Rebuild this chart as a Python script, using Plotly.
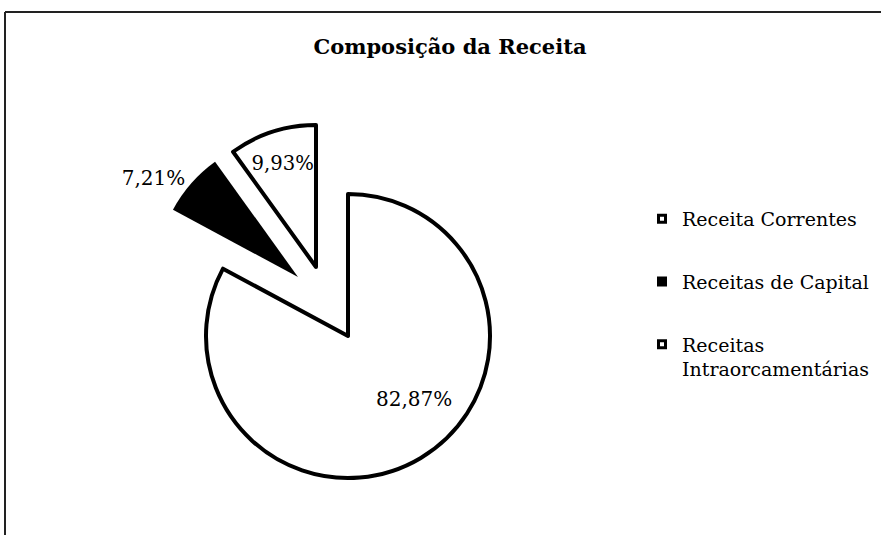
import plotly.graph_objects as go

# ---- data ----
categories = ["Receita Correntes", "Receitas de Capital", "Receitas Intraorcamentárias"]
legend_names = ["Receita Correntes", "Receitas de Capital", "Receitas<br>Intraorcamentárias"]
values = [82.87, 7.21, 9.93]
labels_txt = [f"{v:.2f}".replace(".", ",") + "%" for v in values]
fill_colors = ["#ffffff", "#000000", "#ffffff"]

# ---- layout constants ----
W, H = 881, 535
R = 142                      # pie radius in px
# exploded slice centres (px) for each category
CENTERS = [(348, 336), (298, 277), (316, 267)]
TEXTPOS = ["none", "outside", "inside"]   # big-slice label placed as annotation
BIG_LABEL_POS = (414, 399)
FONT = "DejaVu Serif"


def domain(c, r):
    cx, cy = c
    return dict(x=[(cx - r) / W, (cx + r) / W],
                y=[1 - (cy + r) / H, 1 - (cy - r) / H])


fig = go.Figure()

TRANSP = "rgba(0,0,0,0)"
for i, cat in enumerate(categories):
    cols = [fill_colors[j] if j == i else TRANSP for j in range(len(values))]
    lw = [(4 if fill_colors[i] == "#ffffff" else 0) if j == i else 0 for j in range(len(values))]
    txt = [labels_txt[j] if j == i else "" for j in range(len(values))]
    tpos = [TEXTPOS[j] if j == i else "none" for j in range(len(values))]
    fig.add_trace(go.Pie(
        labels=categories,
        values=values,
        sort=False,
        direction="clockwise",
        rotation=0,
        domain=domain(CENTERS[i], R),
        marker=dict(colors=cols, line=dict(color="#000000", width=lw)),
        text=txt,
        textinfo="text",
        textposition=tpos,
        textfont=dict(family=FONT, size=20, color="#000000"),
        insidetextorientation="horizontal",
        showlegend=False,
        hoverinfo="skip",
    ))

# legend entries
for i, name in enumerate(legend_names):
    fig.add_trace(go.Scatter(
        x=[None], y=[None], mode="markers", name=name,
        legendgroup=f"g{i}",
        marker=dict(symbol="square", size=7, color=fill_colors[i],
                    line=dict(color="#000000", width=3)),
        hoverinfo="skip",
    ))

fig.update_layout(
    width=W, height=H,
    margin=dict(l=0, r=0, t=0, b=0),
    paper_bgcolor="#ffffff",
    plot_bgcolor="#ffffff",
    xaxis=dict(visible=False),
    yaxis=dict(visible=False),
    title=dict(text="<b>Composição da Receita</b>", x=450 / W, xanchor="center",
               y=1 - 47 / H, yanchor="middle",
               font=dict(family=FONT, size=21, color="#000000")),
    legend=dict(x=642 / W, xanchor="left", y=1 - 200 / H, yanchor="top",
                font=dict(family=FONT, size=19, color="#000000"),
                tracegroupgap=35, valign="top", bgcolor="rgba(0,0,0,0)"),
    annotations=[
        dict(text=labels_txt[0], xref="paper", yref="paper",
             x=BIG_LABEL_POS[0] / W, y=1 - BIG_LABEL_POS[1] / H,
             xanchor="center", yanchor="middle", showarrow=False,
             font=dict(family=FONT, size=20, color="#000000")),
    ],
    shapes=[
        dict(type="line", xref="paper", yref="paper", x0=5 / W, x1=1.0, y0=1 - 12 / H, y1=1 - 12 / H,
             line=dict(color="#222222", width=2)),
        dict(type="line", xref="paper", yref="paper", x0=5 / W, x1=5 / W, y0=0, y1=1 - 12 / H,
             line=dict(color="#222222", width=2)),
    ],
)

fig.write_html("out.html", config={"displayModeBar": False},
               post_script="document.body.style.margin='0';")
